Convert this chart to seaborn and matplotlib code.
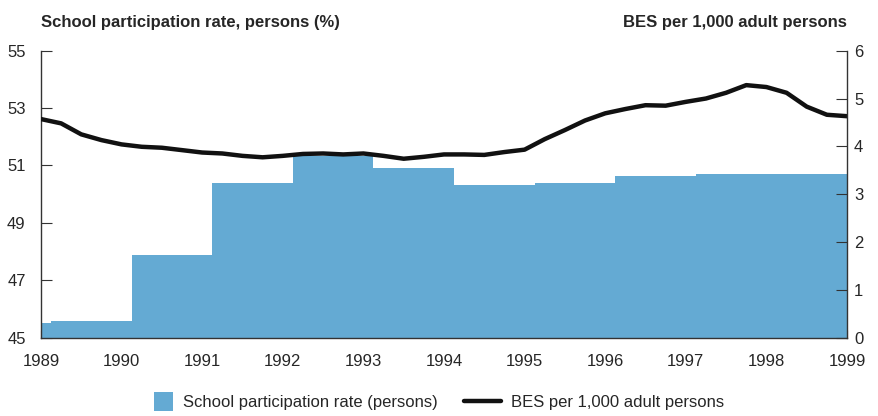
import numpy as np
import matplotlib
matplotlib.use('Agg')
import matplotlib.pyplot as plt
import seaborn as sns
from matplotlib.patches import Patch, Rectangle
from matplotlib.lines import Line2D
from matplotlib.legend_handler import HandlerPatch

# school participation rate (%), one value per period, periods run from edge to edge
period_edges = [1989.0, 1989.125, 1990.125, 1991.125, 1992.125, 1993.125,
                1994.125, 1995.125, 1996.125, 1997.125, 1998.125, 1999.0]
participation = [45.52, 45.59, 47.88, 50.37, 51.32, 50.92,
                 50.33, 50.40, 50.62, 50.71, 50.71]

# BES per 1,000 adult persons, quarterly from 1989 to 1999
bes_quarters = [1989 + q / 4 for q in range(41)]
bes = [4.57, 4.48, 4.25, 4.13, 4.04, 3.99, 3.97, 3.92, 3.87, 3.85,
       3.80, 3.77, 3.80, 3.84, 3.85, 3.83, 3.85, 3.80, 3.74, 3.78,
       3.83, 3.83, 3.82, 3.88, 3.93, 4.15, 4.34, 4.54, 4.69, 4.78,
       4.86, 4.85, 4.93, 5.00, 5.12, 5.28, 5.24, 5.12, 4.83, 4.66, 4.63]

year_ticks = list(range(1989, 2000))

sns.set_style('ticks')
plt.rcParams['font.family'] = ['Liberation Sans', 'DejaVu Sans']

bar_color = '#64aad3'
line_color = '#111111'
axis_color = '#333333'

fig = plt.figure(figsize=(8.79, 4.16), dpi=100)
ax = fig.add_axes([0.0466, 0.1887, 0.917, 0.6894])

starts = period_edges[:-1]
widths = np.diff(period_edges)
ax.bar(starts, np.array(participation) - 45, width=widths, bottom=45, align='edge',
       color=bar_color, linewidth=0)

ax.set_xlim(1989, 1999)
ax.set_ylim(45, 55)
ax.set_yticks(range(45, 56, 2))
ax.set_xticks(year_ticks)
ax.set_xticks(np.arange(1989, 1999.01, 0.25), minor=True)
ax.tick_params(axis='x', which='both', direction='in', length=6, color=axis_color,
               labelsize=12, pad=12)
ax.tick_params(axis='y', direction='in', length=8, color=axis_color, labelsize=12, pad=11)

ax2 = ax.twinx()
sns.lineplot(x=bes_quarters, y=bes, ax=ax2, color=line_color, linewidth=3.2)
ax2.set_ylim(0, 6)
ax2.set_yticks(range(0, 7))
ax2.tick_params(axis='y', direction='in', length=8, color=axis_color, labelsize=12, pad=5)

for a in (ax, ax2):
    a.spines['top'].set_visible(False)
    for s in ('left', 'right', 'bottom'):
        a.spines[s].set_color(axis_color)
        a.spines[s].set_linewidth(1.0)
ax.spines['right'].set_visible(False)
ax2.spines['left'].set_visible(False)
ax2.spines['bottom'].set_visible(False)

fig.text(0.0466, 0.945, 'School participation rate, persons (%)', fontsize=12,
         fontweight='bold', ha='left', va='center')
fig.text(0.9636, 0.945, 'BES per 1,000 adult persons', fontsize=12,
         fontweight='bold', ha='right', va='center')


def square_patch(legend, orig_handle, xdescent, ydescent, width, height, fontsize):
    side = height * 1.6
    return Rectangle((width - side - xdescent, -ydescent - (side - height) / 2), side, side)


handles = [Patch(facecolor=bar_color, edgecolor='none'),
           Line2D([0], [0], color=line_color, linewidth=3.2)]
labels = ['School participation rate (persons)', 'BES per 1,000 adult persons']
fig.legend(handles, labels, loc='center', bbox_to_anchor=(0.489, 0.032), ncol=2,
           frameon=False, fontsize=12, handlelength=2.2, handletextpad=0.6,
           columnspacing=1.6,
           handler_map={Patch: HandlerPatch(patch_func=square_patch)})

fig.savefig('out.png', dpi=100)
